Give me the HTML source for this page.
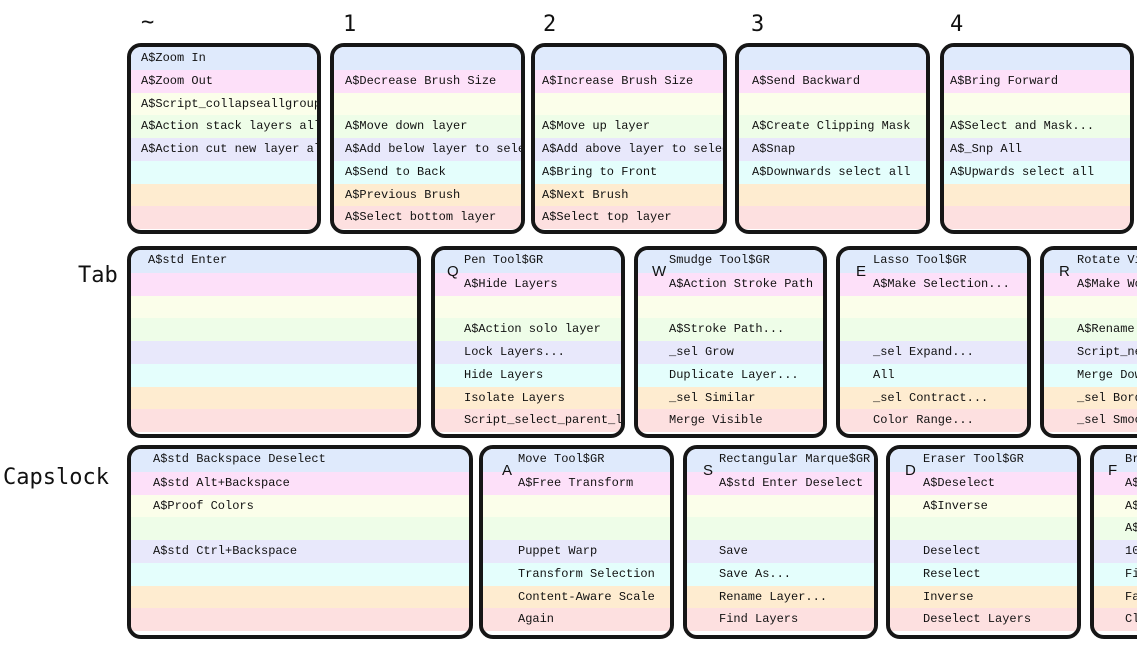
<!DOCTYPE html>
<html><head><meta charset="utf-8"><style>
html,body{margin:0;width:1137px;height:646px;overflow:hidden;background:#fff;}
#w{position:relative;width:1137px;height:646px;overflow:hidden;font-family:"Liberation Mono",monospace;}
.k{position:absolute;border:4px solid #161616;border-radius:14px;overflow:hidden;box-sizing:border-box;}
.s{height:22.75px;line-height:22.75px;font-size:12px;color:#111;white-space:nowrap;overflow:hidden;padding-left:var(--p);}
.s:nth-child(1){background:#dfeafc}.s:nth-child(2){background:#fde0f9}.s:nth-child(3){background:#fbfeea}.s:nth-child(4){background:#eefde8}
.s:nth-child(5){background:#e8e8fb}.s:nth-child(6){background:#e4fefc}.s:nth-child(7){background:#feecd0}.s:nth-child(8){background:#fde0e0}
.s:first-child{line-height:20px}
.r1{top:43px;height:191px}.r2{top:246px;height:192px}.r3{top:445px;height:194px}
.r1 .s:first-child{line-height:22.75px}
.lb{position:absolute;font-family:"DejaVu Sans Mono","Liberation Mono",monospace;font-size:22px;color:#111}
.L{position:absolute;font-family:"Liberation Sans",sans-serif;font-size:15px;color:#111;top:13px}
</style></head><body><div id="w">
<div class="lb" style="left:141px;top:10px">~</div>
<div class="lb" style="left:343px;top:12px">1</div>
<div class="lb" style="left:543px;top:12px">2</div>
<div class="lb" style="left:751px;top:12px">3</div>
<div class="lb" style="left:950px;top:12px">4</div>
<div class="lb" style="left:78px;top:263px">Tab</div>
<div class="lb" style="left:3px;top:465px">Capslock</div>

<div class="k r1" style="left:127px;width:194px;--p:10px"><div class="s">A$Zoom In</div><div class="s">A$Zoom Out</div><div class="s">A$Script_collapseallgroups</div><div class="s">A$Action stack layers all</div><div class="s">A$Action cut new layer all</div><div class="s"></div><div class="s"></div><div class="s"></div></div>
<div class="k r1" style="left:330px;width:195px;--p:11px"><div class="s"></div><div class="s">A$Decrease Brush Size</div><div class="s"></div><div class="s">A$Move down layer</div><div class="s">A$Add below layer to selection</div><div class="s">A$Send to Back</div><div class="s">A$Previous Brush</div><div class="s">A$Select bottom layer</div></div>
<div class="k r1" style="left:531px;width:196px;--p:7px"><div class="s"></div><div class="s">A$Increase Brush Size</div><div class="s"></div><div class="s">A$Move up layer</div><div class="s">A$Add above layer to selection</div><div class="s">A$Bring to Front</div><div class="s">A$Next Brush</div><div class="s">A$Select top layer</div></div>
<div class="k r1" style="left:735px;width:195px;--p:13px"><div class="s"></div><div class="s">A$Send Backward</div><div class="s"></div><div class="s">A$Create Clipping Mask</div><div class="s">A$Snap</div><div class="s">A$Downwards select all</div><div class="s"></div><div class="s"></div></div>
<div class="k r1" style="left:940px;width:194px;--p:6px"><div class="s"></div><div class="s">A$Bring Forward</div><div class="s"></div><div class="s">A$Select and Mask...</div><div class="s">A$_Snp All</div><div class="s">A$Upwards select all</div><div class="s"></div><div class="s"></div></div>

<div class="k r2" style="left:127px;width:294px;--p:17px"><div class="s">A$std Enter</div><div class="s"></div><div class="s"></div><div class="s"></div><div class="s"></div><div class="s"></div><div class="s"></div><div class="s"></div></div>
<div class="k r2" style="left:431px;width:194px;--p:29px"><div class="s">Pen Tool$GR</div><div class="s">A$Hide Layers</div><div class="s"></div><div class="s">A$Action solo layer</div><div class="s">Lock Layers...</div><div class="s">Hide Layers</div><div class="s">Isolate Layers</div><div class="s">Script_select_parent_layer</div><div class="L" style="left:12px">Q</div></div>
<div class="k r2" style="left:634px;width:193px;--p:31px"><div class="s">Smudge Tool$GR</div><div class="s">A$Action Stroke Path</div><div class="s"></div><div class="s">A$Stroke Path...</div><div class="s">_sel Grow</div><div class="s">Duplicate Layer...</div><div class="s">_sel Similar</div><div class="s">Merge Visible</div><div class="L" style="left:14px">W</div></div>
<div class="k r2" style="left:836px;width:195px;--p:33px"><div class="s">Lasso Tool$GR</div><div class="s">A$Make Selection...</div><div class="s"></div><div class="s"></div><div class="s">_sel Expand...</div><div class="s">All</div><div class="s">_sel Contract...</div><div class="s">Color Range...</div><div class="L" style="left:16px">E</div></div>
<div class="k r2" style="left:1040px;width:195px;--p:33px"><div class="s">Rotate View Tool$GR</div><div class="s">A$Make Work Path</div><div class="s"></div><div class="s">A$Rename Layer</div><div class="s">Script_new_layer</div><div class="s">Merge Down</div><div class="s">_sel Border...</div><div class="s">_sel Smooth...</div><div class="L" style="left:15px">R</div></div>

<div class="k r3" style="left:127px;width:346px;--p:22px"><div class="s">A$std Backspace Deselect</div><div class="s">A$std Alt+Backspace</div><div class="s">A$Proof Colors</div><div class="s"></div><div class="s">A$std Ctrl+Backspace</div><div class="s"></div><div class="s"></div><div class="s"></div></div>
<div class="k r3" style="left:479px;width:195px;--p:35px"><div class="s">Move Tool$GR</div><div class="s">A$Free Transform</div><div class="s"></div><div class="s"></div><div class="s">Puppet Warp</div><div class="s">Transform Selection</div><div class="s">Content-Aware Scale</div><div class="s">Again</div><div class="L" style="left:19px">A</div></div>
<div class="k r3" style="left:683px;width:195px;--p:32px"><div class="s">Rectangular Marque$GR</div><div class="s">A$std Enter Deselect</div><div class="s"></div><div class="s"></div><div class="s">Save</div><div class="s">Save As...</div><div class="s">Rename Layer...</div><div class="s">Find Layers</div><div class="L" style="left:16px">S</div></div>
<div class="k r3" style="left:886px;width:195px;--p:33px"><div class="s">Eraser Tool$GR</div><div class="s">A$Deselect</div><div class="s">A$Inverse</div><div class="s"></div><div class="s">Deselect</div><div class="s">Reselect</div><div class="s">Inverse</div><div class="s">Deselect Layers</div><div class="L" style="left:15px">D</div></div>
<div class="k r3" style="left:1090px;width:195px;--p:31px"><div class="s">Brush Tool$GR</div><div class="s">A$Fill</div><div class="s">A$Fade</div><div class="s">A$Clear</div><div class="s">100%</div><div class="s">Fill...</div><div class="s">Fade...</div><div class="s">Clear</div><div class="L" style="left:14px">F</div></div>
</div></body></html>
